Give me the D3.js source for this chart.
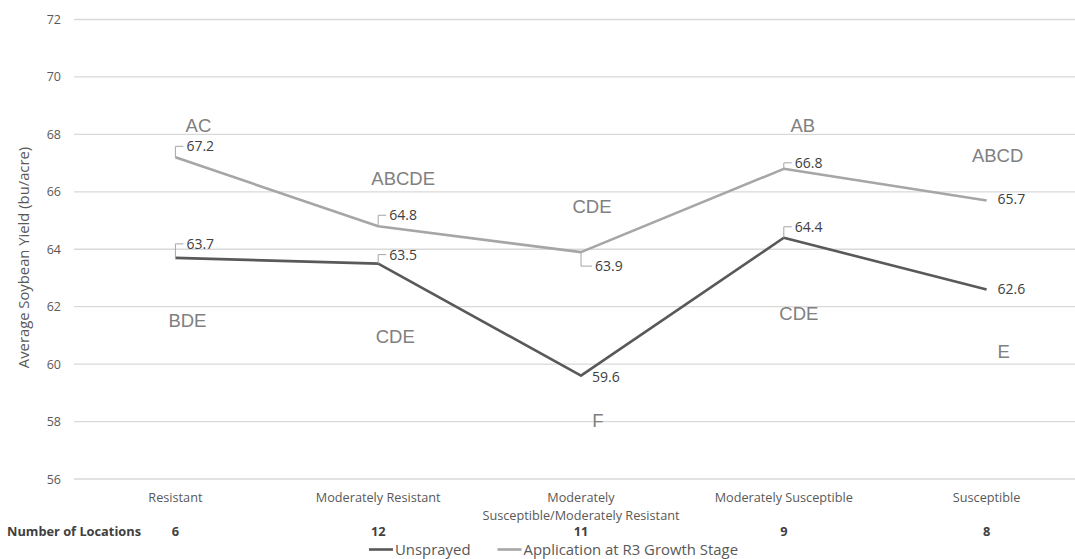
<!DOCTYPE html>
<html>
<head>
<meta charset="utf-8">
<script src="https://cdn.jsdelivr.net/npm/d3@7"></script>
<style>
  html, body { margin: 0; padding: 0; background: #fff; }
  svg { display: block; }
</style>
</head>
<body>
<svg id="chart" width="1075" height="559"></svg>
<script>
// Resistance classes along the x axis
const categories = [
  "Resistant",
  "Moderately Resistant",
  "Moderately Susceptible/Moderately Resistant",
  "Moderately Susceptible",
  "Susceptible"
];
// Category labels as they wrap under the axis
const categoryLines = [
  ["Resistant"],
  ["Moderately Resistant"],
  ["Moderately", "Susceptible/Moderately Resistant"],
  ["Moderately Susceptible"],
  ["Susceptible"]
];
const locations = [6, 12, 11, 9, 8];

const seriesNames = ["Unsprayed", "Application at R3 Growth Stage"];
const unsprayed = [63.7, 63.5, 59.6, 64.4, 62.6];
const sprayedR3 = [67.2, 64.8, 63.9, 66.8, 65.7];

// Mean separation letters
const lettersUnsprayed = ["BDE", "CDE", "F", "CDE", "E"];
const lettersSprayed = ["AC", "ABCDE", "CDE", "AB", "ABCD"];

const yTicks = [56, 58, 60, 62, 64, 66, 68, 70, 72];

// ---- layout ----
const W = 1075, H = 559;
const plot = { left: 74, right: 1088, top: 19.5, bottom: 479 };
const colors = { unsprayed: "#595959", sprayed: "#a6a6a6", grid: "#d9d9d9",
                 axisText: "#595959", dataLabel: "#404040", letters: "#808080" };

// Data label placement relative to each point: [dx, baseline dy, leader]
const labelPosUnsprayed = [[11, -9, true], [11, -4, true], [11, 6, false], [11, -6, true], [11, 5, false]];
const labelPosSprayed   = [[11, -6, true], [11, -6, true], [14, 19, true], [11, -1, true], [11, 4, false]];
// Letter placement: [dx from category centre, baseline position in axis units]
const letterPosUnsprayed = [[12, 61.29], [17, 60.74], [17, 57.8], [15, 61.54], [17, 60.21]];
const letterPosSprayed   = [[23, 68.08], [25, 66.24], [11, 65.26], [19, 68.08], [11, 67.04]];

const svg = d3.select("#chart");

const x = d3.scaleBand().domain(categories).range([plot.left, plot.right]).padding(0);
const cx = c => x(c) + x.bandwidth() / 2;
const y = d3.scaleLinear().domain([56, 72]).range([plot.bottom, plot.top]);

// gridlines
svg.append("g").selectAll("line").data(yTicks).join("line")
  .attr("x1", plot.left).attr("x2", plot.right)
  .attr("y1", d => y(d)).attr("y2", d => y(d))
  .attr("stroke", colors.grid).attr("stroke-width", 1.3);

// y tick labels
const yAxis = d3.axisLeft(y).tickValues(yTicks).tickSize(0).tickPadding(13);
const gy = svg.append("g").attr("transform", `translate(${plot.left},0)`).call(yAxis);
gy.select(".domain").remove();
gy.selectAll("text")
  .attr("font-family", "'Open Sans', sans-serif").attr("font-size", 12.5)
  .attr("fill", colors.axisText);

// y axis title
svg.append("text")
  .attr("transform", "translate(29,257.5) rotate(-90)")
  .attr("text-anchor", "middle")
  .attr("font-family", "'Open Sans', sans-serif").attr("font-size", 14.8)
  .attr("fill", colors.axisText)
  .text("Average Soybean Yield (bu/acre)");

// category labels below the axis
const catG = svg.append("g");
categories.forEach((c, i) => {
  const t = catG.append("text")
    .attr("x", cx(c)).attr("y", 501.5)
    .attr("text-anchor", "middle")
    .attr("font-family", "'Open Sans', sans-serif").attr("font-size", 12.7)
    .attr("fill", colors.axisText);
  categoryLines[i].forEach((line, k) => {
    t.append("tspan").attr("x", cx(c)).attr("dy", k === 0 ? 0 : 18).text(line);
  });
});

// number of locations row
svg.append("text")
  .attr("x", 7).attr("y", 535.6)
  .attr("font-family", "'Open Sans', sans-serif").attr("font-size", 12.8)
  .attr("font-weight", "bold").attr("fill", colors.dataLabel)
  .text("Number of Locations");
svg.append("g").selectAll("text").data(locations).join("text")
  .attr("x", (d, i) => cx(categories[i])).attr("y", 535.6)
  .attr("text-anchor", "middle")
  .attr("font-family", "'Open Sans', sans-serif").attr("font-size", 12.8)
  .attr("font-weight", "bold").attr("fill", colors.dataLabel)
  .text(d => d);

// lines
const line = d3.line().x((d, i) => cx(categories[i])).y(d => y(d));
const series = [
  { name: seriesNames[0], values: unsprayed, color: colors.unsprayed, pos: labelPosUnsprayed,
    letters: lettersUnsprayed, letterPos: letterPosUnsprayed },
  { name: seriesNames[1], values: sprayedR3, color: colors.sprayed, pos: labelPosSprayed,
    letters: lettersSprayed, letterPos: letterPosSprayed }
];

series.forEach(s => {
  svg.append("path").datum(s.values)
    .attr("fill", "none").attr("stroke", s.color).attr("stroke-width", 2.6)
    .attr("stroke-linejoin", "round")
    .attr("d", line);
});

// data labels with leader lines
series.forEach(s => {
  s.values.forEach((v, i) => {
    const px = cx(categories[i]), py = y(v);
    const [dx, dy, leader] = s.pos[i];
    const tx = px + dx, ty = py + dy;
    if (leader) {
      const my = ty - 5;
      svg.append("path")
        .attr("d", `M${px},${py}V${my}H${tx - 3}`)
        .attr("fill", "none").attr("stroke", "#a6a6a6").attr("stroke-width", 1);
    }
    svg.append("text")
      .attr("x", tx).attr("y", ty)
      .attr("font-family", "'Open Sans', sans-serif").attr("font-size", 14)
      .attr("fill", colors.dataLabel)
      .text(v.toFixed(1));
  });
});

// mean separation letters
series.forEach(s => {
  s.letters.forEach((l, i) => {
    const [dx, val] = s.letterPos[i];
    svg.append("text")
      .attr("x", cx(categories[i]) + dx).attr("y", y(val))
      .attr("text-anchor", "middle")
      .attr("font-family", "'Liberation Sans', Arial, sans-serif").attr("font-size", 18.5)
      .attr("fill", colors.letters)
      .text(l);
  });
});

// legend
const legend = svg.append("g");
const legendItems = [
  { name: seriesNames[0], color: colors.unsprayed, x: 369 },
  { name: seriesNames[1], color: colors.sprayed, x: 497.5 }
];
legendItems.forEach(d => {
  legend.append("line")
    .attr("x1", d.x).attr("x2", d.x + 24).attr("y1", 549.5).attr("y2", 549.5)
    .attr("stroke", d.color).attr("stroke-width", 2.6);
  legend.append("text")
    .attr("x", d.x + 26).attr("y", 554.8)
    .attr("font-family", "'Open Sans', sans-serif").attr("font-size", 14.9)
    .attr("fill", colors.axisText)
    .text(d.name);
});
</script>
</body>
</html>
